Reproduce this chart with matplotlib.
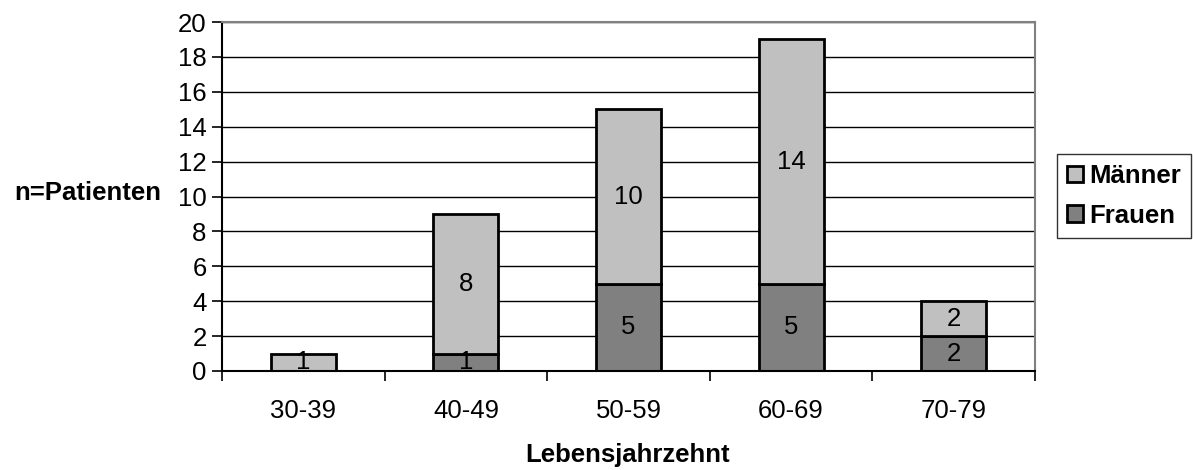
import matplotlib.pyplot as plt
import numpy as np

plt.rcParams['font.family'] = ['Liberation Sans', 'DejaVu Sans']

gruppen = ["30-39", "40-49", "50-59", "60-69", "70-79"]
frauen = [0, 1, 5, 5, 2]
maenner = [1, 8, 10, 14, 2]

fs = 18.5

fig = plt.figure(figsize=(11.93, 4.70), dpi=100)
ax = fig.add_axes([222/1193, 1-371/470, (1035-222)/1193, (371-22)/470])

x = np.arange(len(gruppen))
b1 = ax.bar(x, frauen, width=0.4, color="#808080", edgecolor="black", linewidth=2, label="Frauen")
b2 = ax.bar(x, maenner, width=0.4, bottom=frauen, color="#C0C0C0", edgecolor="black", linewidth=2, label="Männer")

for i in range(len(gruppen)):
    if frauen[i] > 0:
        ax.text(x[i], frauen[i] / 2, str(frauen[i]), ha="center", va="center", fontsize=fs)
    ax.text(x[i], frauen[i] + maenner[i] / 2, str(maenner[i]), ha="center", va="center", fontsize=fs)

ax.set_xlim(-0.5, 4.5)
ax.set_ylim(0, 20)
ax.set_yticks(range(0, 21, 2))
ax.yaxis.grid(True, color="black", linewidth=1)
ax.set_axisbelow(True)
ax.set_xticks(x)
ax.set_xticklabels(gruppen)
ax.set_xticks(np.arange(-0.5, 5, 1), minor=True)
ax.tick_params(axis="x", which="major", length=0, pad=20, labelsize=fs)
ax.tick_params(axis="x", which="minor", length=7, width=1.2, direction="out")
ax.tick_params(axis="y", length=7, width=1.2, direction="out", labelsize=fs, pad=4)
for s in ["top", "right"]:
    ax.spines[s].set_color("#808080")
    ax.spines[s].set_linewidth(1.5)
ax.spines["left"].set_linewidth(1.5)
ax.spines["bottom"].set_linewidth(1.5)

fig.text(14/1193, 1-193/470, "n=Patienten", fontsize=fs, fontweight="bold", ha="left", va="center")
fig.text(628/1193, 1-455/470, "Lebensjahrzehnt", fontsize=fs, fontweight="bold", ha="center", va="center")

handles = [b2, b1]
leg = ax.legend(handles, ["Männer", "Frauen"], loc="center left", bbox_to_anchor=(1057/1193, 1-196/470),
                bbox_transform=fig.transFigure,
                frameon=True, fancybox=False, edgecolor="black",
                prop={"weight": "bold", "size": fs}, handlelength=0.6, handleheight=0.6,
                handletextpad=0.25, borderpad=0.4, labelspacing=0.6, borderaxespad=0)
leg.get_frame().set_linewidth(1)

fig.savefig("out.png", dpi=100)
